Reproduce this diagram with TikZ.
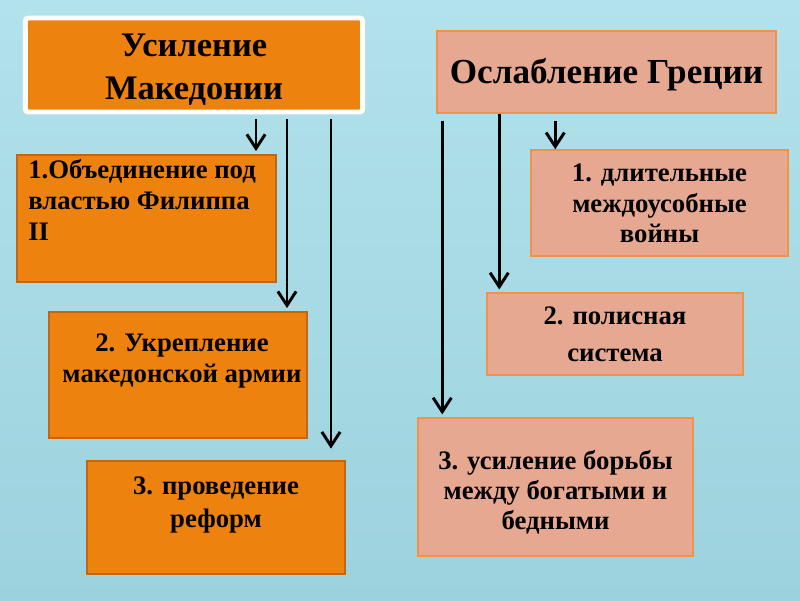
\documentclass[tikz,border=0pt]{standalone}
\usepackage{fontspec}
\setmainfont{Liberation Serif}
\usetikzlibrary{arrows.meta}
\definecolor{skytop}{RGB}{178,226,235}
\definecolor{skybot}{RGB}{156,210,222}
\definecolor{orng}{RGB}{238,130,14}
\definecolor{orngdark}{RGB}{192,102,22}
\definecolor{salmon}{RGB}{230,168,144}
\definecolor{salmonline}{RGB}{240,146,72}
\begin{document}
\begin{tikzpicture}[x=0.025cm,y=-0.025cm,
  mbox/.style={fill=orng,draw=orngdark,line width=1.5pt,inner sep=0pt},
  gbox/.style={fill=salmon,draw=salmonline,line width=1pt,inner sep=0pt},
  txt/.style={inner sep=0pt,align=center,font=\bfseries\fontsize{19}{22}\selectfont},
  arr/.style={-{Straight Barb[length=10pt,width=13pt]},line width=2.1pt,shorten >=2pt}]
\shade[top color=skytop,bottom color=skybot] (0,0) rectangle (800,600);
\node[mbox,draw=white,line width=3.5pt,rounded corners=2pt,minimum width=8.425cm,minimum height=2.35cm] (mac) at (194,65) {};
\node[gbox,minimum width=8.475cm,minimum height=2.05cm] (gre) at (606.5,72) {};
\node[mbox,minimum width=6.475cm,minimum height=3.175cm] (l1) at (146.5,218.5) {};
\node[mbox,minimum width=6.45cm,minimum height=3.15cm] (l2) at (178,375) {};
\node[mbox,minimum width=6.45cm,minimum height=2.825cm] (l3) at (216,517.5) {};
\node[gbox,minimum width=6.425cm,minimum height=2.65cm] (r1) at (659.5,203) {};
\node[gbox,minimum width=6.4cm,minimum height=2.05cm] (r2) at (615,334) {};
\node[gbox,minimum width=6.875cm,minimum height=3.45cm] (r3) at (555.5,487) {};
\node[txt,anchor=north,font=\bfseries\fontsize{24.5}{30.5}\selectfont] (mact) at (194,34) {Усиление\\Македонии};
\node[txt,anchor=base,font=\bfseries\fontsize{25}{27}\selectfont] (gret) at (606.5,83) {Ослабление Греции};
\node[txt,align=left,anchor=north west] (l1t) at (28,159) {1.Объединение под\\властью Филиппа\\II};
\node[txt,anchor=north] (l2t) at (182,334) {2. Укрепление\\македонской армии};
\node[txt,anchor=north,font=\bfseries\fontsize{19}{23}\selectfont] (l3t) at (216,477) {3. проведение\\реформ};
\node[txt,anchor=north,font=\bfseries\fontsize{19}{21.6}\selectfont] (r1t) at (659.5,164) {1. длительные\\междоусобные\\войны};
\node[txt,anchor=north,font=\bfseries\fontsize{19}{26}\selectfont] (r2t) at (615,307) {2. полисная\\система};
\node[txt,anchor=north,font=\bfseries\fontsize{19}{21.3}\selectfont] (r3t) at (555.5,450) {3. усиление борьбы\\между богатыми и\\бедными};
\coordinate (a1) at ([shift={(233,5)}]mac.south west);
\coordinate (a2) at ([shift={(264,5)}]mac.south west);
\coordinate (a3) at ([shift={(308,5)}]mac.south west);
\coordinate (b1) at ([shift={(6,7)}]gre.south west);
\coordinate (b2) at ([shift={(63,0)}]gre.south west);
\coordinate (b3) at ([shift={(119,7)}]gre.south west);
\draw[arr] (a1) -- (a1 |- l1.north);
\draw[arr] (a2) -- (a2 |- l2.north);
\draw[arr,shorten >=8pt] (a3) -- (a3 |- l3.north);
\draw[arr] (b1) -- (b1 |- r3.north);
\draw[arr] (b2) -- (b2 |- r2.north);
\draw[arr,shorten >=0pt] (b3) -- (b3 |- r1.north);
\end{tikzpicture}
\end{document}
